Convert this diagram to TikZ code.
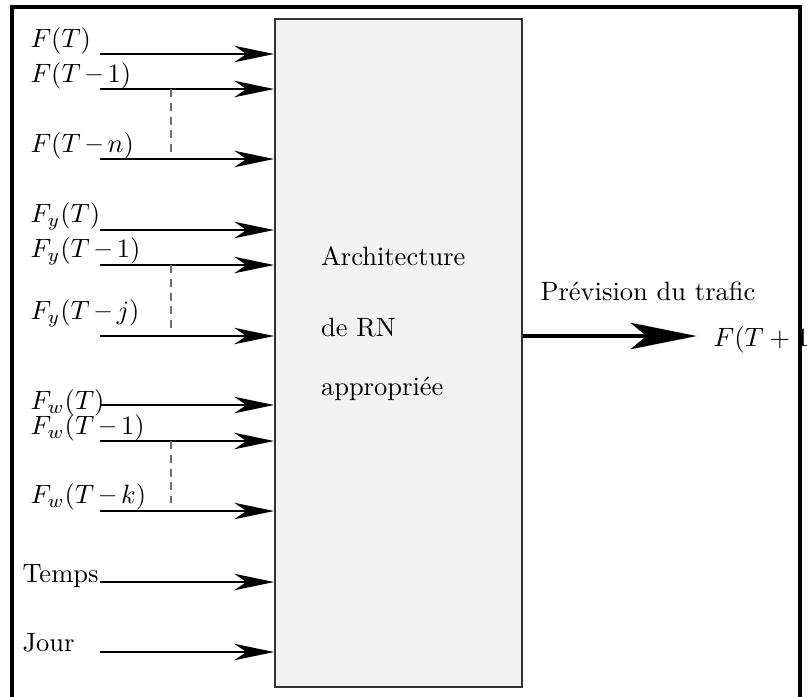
\documentclass[tikz,border=0pt]{standalone}
\usetikzlibrary{arrows.meta}
\definecolor{boxfill}{HTML}{F2F2F2}
\definecolor{dashgray}{HTML}{6E6E6E}
% short, heavy minus used in the delay labels
\newcommand{\dminus}{\mathbin{\mbox{\bfseries --}}}
\tikzset{
  inarrow/.style={line width=0.85pt, -{Stealth[length=15pt, width=6.2pt, inset=4.5pt]}},
  outarrow/.style={line width=1.3pt, -{Stealth[length=25pt, width=10pt, inset=6pt]}},
  gap/.style={dashgray, line width=0.7pt, dash pattern=on 3pt off 2.2pt},
  lbl/.style={anchor=west, inner sep=0pt},
  txt/.style={anchor=base west, inner sep=0pt},
  rnbox/.style={draw=black!80, fill=boxfill, line width=0.7pt,
    minimum width=93.2pt, minimum height=252.1pt, inner sep=0pt},
}
\begin{document}
\begin{tikzpicture}[x=0.3774pt, y=-0.3774pt]
\useasboundingbox (0,0) rectangle (807,696);
\clip (0,0) rectangle (807,696);

% network block
\node (rn) [rnbox] at (398.5,353) {};
\node [txt] at (320.5,265) {Architecture};
\node [txt] at (320.5,336) {de RN};
\node [txt] at (320.5,395) {appropriée};

% input lines: start points
\foreach \n/\y in {a/54, b/89, c/159, d/230, e/265, f/336, g/405, h/441, i/511, j/582, k/652}
  \coordinate (s\n) at (100,\y);
\foreach \n in {a,b,c,d,e,f,g,h,i,j,k}
  \draw [inarrow] (s\n) -- (s\n -| rn.west);

% dashed gaps between the first and last delays
\coordinate (gb) at (170.7,89);  \coordinate (gc) at (170.7,152);
\coordinate (ge) at (170.7,265); \coordinate (gf) at (170.7,328);
\coordinate (gh) at (170.7,441); \coordinate (gi) at (170.7,503);
\draw [gap] (gb) -- (gc);
\draw [gap] (ge) -- (gf);
\draw [gap] (gh) -- (gi);

% input labels
\node (la) [lbl] at (30,41)  {$F(T)$};
\node (lb) [lbl] at (30,76)  {$F(T\dminus 1)$};
\node (lc) [lbl] at (30,146) {$F(T\dminus n)$};
\node (ld) [lbl] at (30,216) {$F_y(T)$};
\node (le) [lbl] at (30,251) {$F_y(T\dminus 1)$};
\node (lf) [lbl] at (30,313) {$F_y(T\dminus j)$};
\node (lg) [lbl] at (30,403) {$F_w(T)$};
\node (lh) [lbl] at (30,428) {$F_w(T\dminus 1)$};
\node (li) [lbl] at (30,497) {$F_w(T\dminus k)$};
\node (lj) [txt] at (22,582) {Temps};
\node (lk) [txt] at (22,651) {Jour};

% output
\coordinate (out) at (696.7,336);
\draw [outarrow] (rn.east |- out) -- (out);
\node (lp) [txt] at (540,300) {Prévision du trafic};
\node (lo) [lbl] at (713,340) {$F(T+1)$};

% outer frame
\draw [line width=1.4pt] (12,720) -- (12,7) -- (800,7) -- (800,720);
\end{tikzpicture}
\end{document}
